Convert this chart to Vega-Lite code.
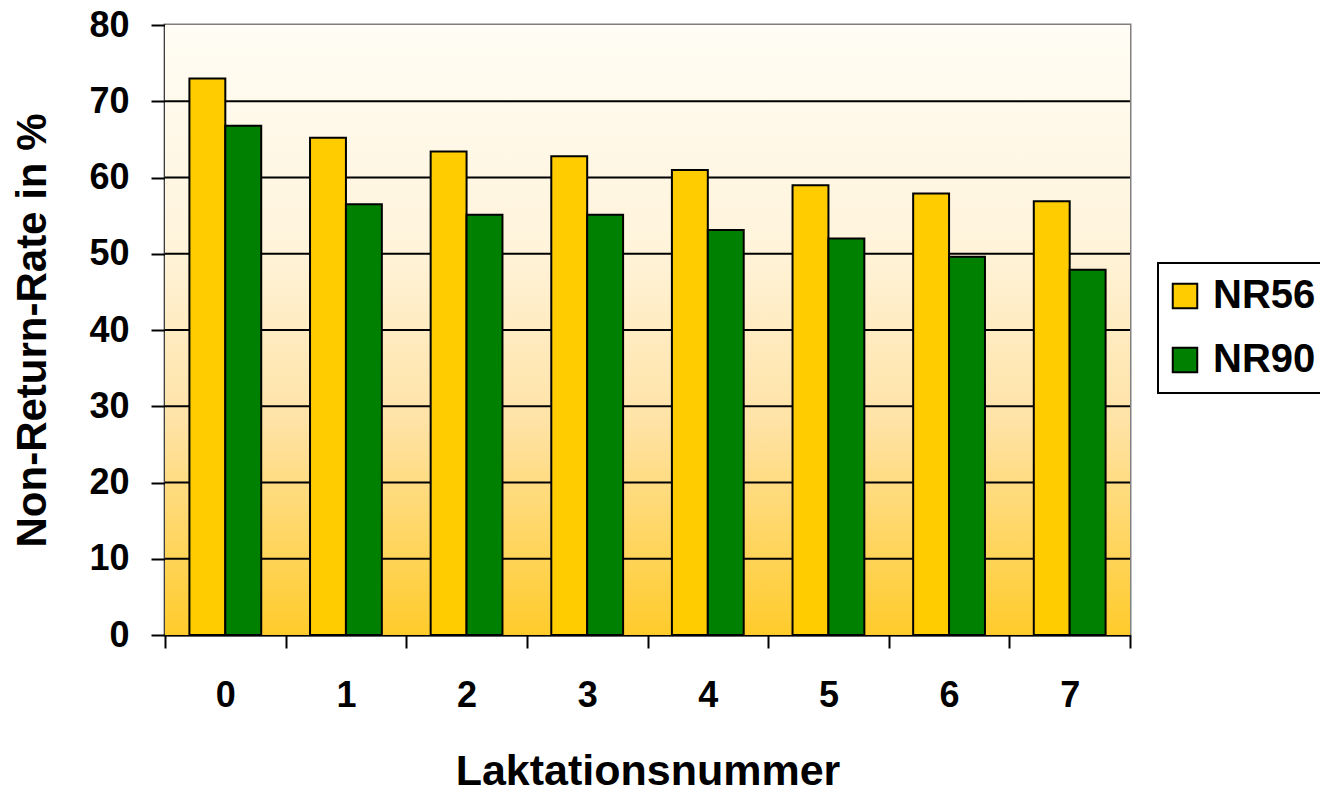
{
  "$schema": "https://vega.github.io/schema/vega-lite/v6.json",
  "width": 965,
  "height": 610,
  "autosize": "none",
  "padding": {"left": 165, "top": 25, "right": 190, "bottom": 158},
  "background": "white",
  "datasets": {
    "raten": [
      {"lakt": "0", "serie": "NR56", "wert": 73.0},
      {"lakt": "0", "serie": "NR90", "wert": 66.8},
      {"lakt": "1", "serie": "NR56", "wert": 65.2},
      {"lakt": "1", "serie": "NR90", "wert": 56.5},
      {"lakt": "2", "serie": "NR56", "wert": 63.4},
      {"lakt": "2", "serie": "NR90", "wert": 55.1},
      {"lakt": "3", "serie": "NR56", "wert": 62.8},
      {"lakt": "3", "serie": "NR90", "wert": 55.1},
      {"lakt": "4", "serie": "NR56", "wert": 61.0},
      {"lakt": "4", "serie": "NR90", "wert": 53.1},
      {"lakt": "5", "serie": "NR56", "wert": 59.0},
      {"lakt": "5", "serie": "NR90", "wert": 52.0},
      {"lakt": "6", "serie": "NR56", "wert": 57.9},
      {"lakt": "6", "serie": "NR90", "wert": 49.6},
      {"lakt": "7", "serie": "NR56", "wert": 56.9},
      {"lakt": "7", "serie": "NR90", "wert": 47.9}
    ],
    "gitter": [
      {"wert": 10}, {"wert": 20}, {"wert": 30}, {"wert": 40},
      {"wert": 50}, {"wert": 60}, {"wert": 70}
    ]
  },
  "layer": [
    {
      "data": {"values": [{"von": 0, "bis": 80}]},
      "mark": {
        "type": "rect",
        "fill": {
          "gradient": "linear",
          "x1": 0, "y1": 0, "x2": 0, "y2": 1,
          "stops": [
            {"offset": 0, "color": "#FFFDF5"},
            {"offset": 0.35, "color": "#FFF4DC"},
            {"offset": 0.65, "color": "#FFE3A6"},
            {"offset": 1, "color": "#FFCB2B"}
          ]
        }
      },
      "encoding": {
        "y": {"field": "von", "type": "quantitative"},
        "y2": {"field": "bis"}
      }
    },
    {
      "data": {"name": "gitter"},
      "mark": {"type": "rule", "color": "black", "strokeWidth": 2},
      "encoding": {
        "y": {"field": "wert", "type": "quantitative"}
      }
    },
    {
      "data": {"name": "raten"},
      "mark": {"type": "bar", "stroke": "black", "strokeWidth": 2},
      "encoding": {
        "x": {
          "field": "lakt",
          "type": "nominal",
          "scale": {"paddingInner": 0, "paddingOuter": 0},
          "axis": {
            "title": "Laktationsnummer",
            "titleFontSize": 43,
            "labelAngle": 0,
            "tickBand": "extent",
            "tickSize": 13,
            "labelPadding": 30,
            "titlePadding": 37
          }
        },
        "xOffset": {
          "field": "serie",
          "type": "nominal",
          "sort": ["NR56", "NR90"],
          "scale": {"paddingInner": 0, "paddingOuter": 0.68}
        },
        "y": {
          "field": "wert",
          "type": "quantitative",
          "scale": {"domain": [0, 80], "nice": false},
          "axis": {
            "title": "Non-Return-Rate in %",
            "values": [0, 10, 20, 30, 40, 50, 60, 70, 80],
            "tickSize": 14,
            "labelPadding": 22,
            "titlePadding": 34,
            "grid": false
          }
        },
        "color": {
          "field": "serie",
          "type": "nominal",
          "scale": {"domain": ["NR56", "NR90"], "range": ["#FFCC00", "#008000"]},
          "legend": {
            "title": null,
            "orient": "none",
            "legendX": 993,
            "legendY": 238,
            "symbolType": "square",
            "symbolSize": 600,
            "symbolStrokeColor": "black",
            "symbolStrokeWidth": 2,
            "symbolOpacity": 1,
            "symbolOffset": -6,
            "labelFontSize": 40,
            "labelFont": "Liberation Sans",
            "labelFontWeight": "bold",
            "labelColor": "black",
            "labelOffset": 8,
            "rowPadding": 24,
            "padding": 13,
            "strokeColor": "black",
            "fillColor": "white"
          }
        }
      }
    }
  ],
  "config": {
    "font": "Liberation Sans",
    "view": {"stroke": "#808080", "strokeWidth": 3},
    "legend": {"strokeWidth": 2},
    "axis": {
      "domainColor": "black",
      "domainWidth": 2,
      "tickColor": "black",
      "tickWidth": 2,
      "grid": false,
      "labelFont": "Liberation Sans",
      "labelFontSize": 36,
      "labelFontWeight": "bold",
      "labelColor": "black",
      "titleFont": "Liberation Sans",
      "titleFontSize": 42,
      "titleFontWeight": "bold",
      "titleColor": "black"
    }
  }
}
